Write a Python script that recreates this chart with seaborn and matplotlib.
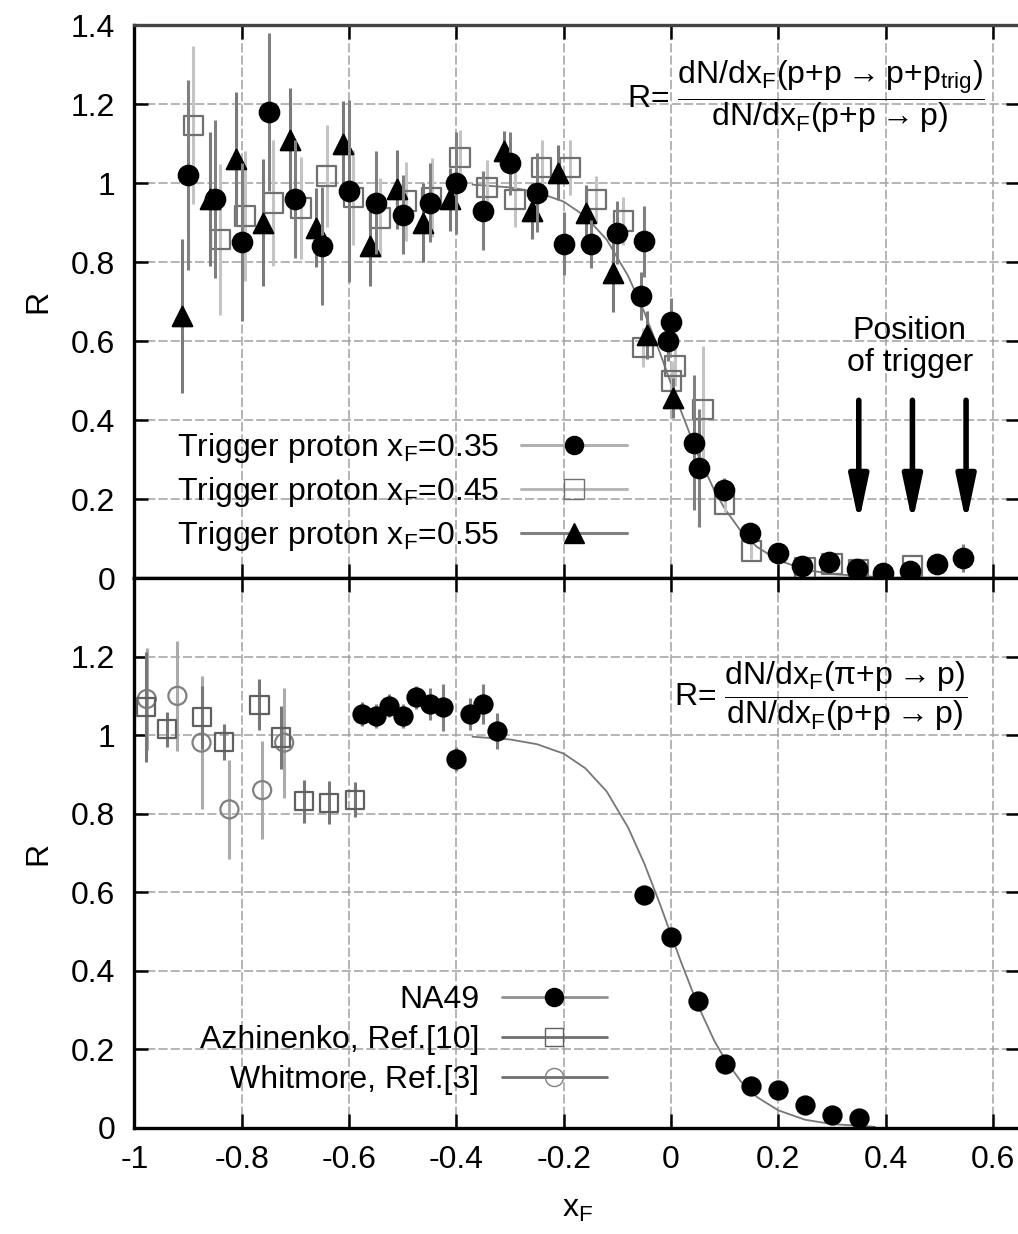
import matplotlib
matplotlib.use("Agg")
import matplotlib.pyplot as plt
from matplotlib.lines import Line2D
import seaborn as sns

# ---- top panel: p+p -> p with a trigger proton -------------------------------
t35_x = [-0.90, -0.85, -0.80, -0.75, -0.70, -0.65, -0.60, -0.55, -0.50, -0.45,
         -0.40, -0.35, -0.30, -0.25, -0.20, -0.15, -0.10, -0.05, -0.056, 0.0,
         -0.005, 0.043, 0.052, 0.098, 0.147, 0.20, 0.245, 0.295, 0.346, 0.396,
         0.445, 0.495, 0.545]
t35_y = [1.02, 0.96, 0.85, 1.18, 0.96, 0.84, 0.98, 0.95, 0.92, 0.95,
         1.00, 0.93, 1.05, 0.975, 0.846, 0.846, 0.874, 0.853, 0.714, 0.648,
         0.60, 0.343, 0.279, 0.224, 0.115, 0.064, 0.03, 0.04, 0.022, 0.013,
         0.018, 0.036, 0.051]
t35_err = [0.24, 0.20, 0.20, 0.20, 0.15, 0.15, 0.23, 0.13, 0.10, 0.10,
           0.13, 0.10, 0.08, 0.10, 0.08, 0.06, 0.08, 0.09, 0.06, 0.06,
           0.05, 0.17, 0.15, 0.03, 0.02, 0.02, 0.01, 0.01, 0.01, 0.01,
           0.01, 0.01, 0.035]

t45_x = [-0.89, -0.84, -0.794, -0.741, -0.69, -0.642, -0.592, -0.542, -0.493,
         -0.446, -0.393, -0.343, -0.291, -0.241, -0.188, -0.139, -0.089,
         -0.052, 0.0075, 0.001, 0.06, 0.10, 0.15, 0.25, 0.30, 0.35, 0.45]
t45_y = [1.146, 0.857, 0.916, 0.95, 0.937, 1.018, 0.963, 0.912, 0.954,
         0.963, 1.064, 0.988, 0.959, 1.039, 1.039, 0.959, 0.904,
         0.583, 0.537, 0.499, 0.427, 0.187, 0.068, 0.025, 0.035, 0.02, 0.03]
t45_err = [0.20, 0.19, 0.165, 0.16, 0.13, 0.13, 0.12, 0.10, 0.10,
           0.10, 0.07, 0.07, 0.07, 0.07, 0.07, 0.06, 0.06,
           0.05, 0.05, 0.05, 0.16, 0.02, 0.02, 0.01, 0.01, 0.01, 0.01]

t55_x = [-0.911, -0.859, -0.81, -0.761, -0.71, -0.662, -0.611, -0.561, -0.511,
         -0.462, -0.412, -0.311, -0.26, -0.21, -0.158, -0.109, -0.045, 0.004]
t55_y = [0.663, 0.959, 1.06, 0.90, 1.11, 0.887, 1.098, 0.84, 0.984,
         0.90, 0.959, 1.081, 0.929, 1.026, 0.925, 0.773, 0.615, 0.456]
t55_err = [0.195, 0.17, 0.17, 0.16, 0.13, 0.10, 0.11, 0.10, 0.10,
           0.10, 0.08, 0.05, 0.07, 0.07, 0.07, 0.10, 0.06, 0.05]

trigger_x = [0.35, 0.45, 0.55]

# ---- bottom panel: pi+p -> p over p+p -> p --------------------------------
na49_x = [-0.575, -0.55, -0.525, -0.50, -0.475, -0.45, -0.425, -0.40, -0.375,
          -0.35, -0.325, -0.05, 0.0, 0.05, 0.10, 0.15, 0.20, 0.25, 0.30, 0.35]
na49_y = [1.054, 1.049, 1.075, 1.049, 1.096, 1.079, 1.071, 0.939, 1.054,
          1.079, 1.011, 0.593, 0.485, 0.323, 0.163, 0.107, 0.096, 0.059, 0.032, 0.026]
na49_err = [0.03, 0.03, 0.03, 0.03, 0.03, 0.04, 0.06, 0.03, 0.04,
            0.05, 0.045, 0.01, 0.01, 0.01, 0.01, 0.01, 0.01, 0.01, 0.01, 0.01]

azh_x = [-0.979, -0.94, -0.874, -0.834, -0.767, -0.727, -0.684, -0.637, -0.589]
azh_y = [1.071, 1.015, 1.045, 0.983, 1.077, 0.994, 0.832, 0.828, 0.836]
azh_err = [0.14, 0.045, 0.08, 0.045, 0.065, 0.08, 0.055, 0.055, 0.045]

whit_x = [-0.977, -0.92, -0.875, -0.823, -0.762, -0.721]
whit_y = [1.092, 1.10, 0.981, 0.811, 0.86, 0.981]
whit_err = [0.13, 0.14, 0.17, 0.125, 0.125, 0.14]

# fitted curve (same in both panels)
curve_x = [-0.37, -0.30, -0.25, -0.20, -0.16, -0.12, -0.08, -0.05, -0.02, 0.0,
           0.02, 0.05, 0.08, 0.10, 0.13, 0.16, 0.20, 0.25, 0.30, 0.38]
curve_y = [0.996, 0.989, 0.977, 0.953, 0.916, 0.857, 0.765, 0.674, 0.568, 0.492,
           0.418, 0.313, 0.224, 0.176, 0.119, 0.079, 0.045, 0.021, 0.010, 0.003]

xticks = [-1, -0.8, -0.6, -0.4, -0.2, 0, 0.2, 0.4, 0.6]
xtick_labels = ["-1", "-0.8", "-0.6", "-0.4", "-0.2", "0", "0.2", "0.4", "0.6"]
yticks = [0, 0.2, 0.4, 0.6, 0.8, 1.0, 1.2, 1.4]
ytick_labels = ["0", "0.2", "0.4", "0.6", "0.8", "1", "1.2", "1.4"]

sns.set_theme(style="ticks")
plt.rcParams["font.family"] = ["Liberation Sans", "DejaVu Sans"]
plt.rcParams["mathtext.default"] = "regular"
plt.rcParams.update({"text.color": "black", "axes.labelcolor": "black",
                     "xtick.color": "black", "ytick.color": "black"})
FS = 23


def style_axes(ax, show_xlabels, top_label):
    ax.set_xlim(-1, 0.65)
    ax.set_ylim(0, 1.4)
    ax.set_xticks(xticks)
    ax.set_yticks(yticks)
    ax.set_xticklabels(xtick_labels if show_xlabels else [])
    labels = list(ytick_labels)
    if not top_label:
        labels[-1] = ""
    ax.set_yticklabels(labels)
    ax.tick_params(direction="in", length=10, width=1.8, top=True, right=True,
                   labelsize=FS, color="black", labelcolor="black")
    ax.tick_params(axis="y", pad=14)
    ax.tick_params(axis="x", pad=12)
    ax.grid(True, color="#a0a0a0", lw=1.1, ls=(0, (6, 2)))
    ax.set_axisbelow(True)
    for s in ax.spines.values():
        s.set_linewidth(2.4)
        s.set_color("black")


def points(ax, x, y, err, marker, size, ecolor, filled, edge, z):
    ax.errorbar(x, y, yerr=err, fmt="none", ecolor=ecolor, elinewidth=2.2,
                capsize=0, zorder=z)
    sns.scatterplot(x=x, y=y, ax=ax, marker=marker, s=size ** 2,
                    color=edge, edgecolor=edge, linewidth=1.6, zorder=z + 1)
    coll = ax.collections[-1]
    coll.set_edgecolor(edge)
    coll.set_facecolor(edge if filled else "none")


fig = plt.figure(figsize=(10.18, 12.34), dpi=100)
ax1 = fig.add_axes([0.1321, 0.5316, 0.8696, 0.4481])
ax2 = fig.add_axes([0.1321, 0.0859, 0.8696, 0.4457])

# top panel
style_axes(ax1, False, True)
ax1.spines["top"].set_color("#444444")
sns.lineplot(x=curve_x, y=curve_y, ax=ax1, color="#777777", lw=1.3, sort=False,
             estimator=None, zorder=2)
points(ax1, t45_x, t45_y, t45_err, "s", 14, "#c4c4c4", False, "#707070", 3)
points(ax1, t55_x, t55_y, t55_err, "^", 14, "#7a7a7a", True, "black", 5)
points(ax1, t35_x, t35_y, t35_err, "o", 14, "#808080", True, "black", 7)

for xt in trigger_x:
    ax1.annotate("", xy=(xt, 0.14), xytext=(xt, 0.45),
                 arrowprops=dict(arrowstyle="-|>,head_width=0.18,head_length=0.85",
                                 lw=4, color="black", mutation_scale=32,
                                 shrinkA=0, shrinkB=0),
                 zorder=9)
ax1.text(0.445, 0.585, "Position\nof trigger", ha="center", va="center",
         fontsize=FS, linespacing=1.05)
ax1.text(0.252, 1.22,
         r"R= $\dfrac{dN/dx_F(p{+}p\rightarrow p{+}p_{trig})}{dN/dx_F(p{+}p\rightarrow p)}$",
         ha="center", va="center", fontsize=FS)

h_top = [Line2D([], [], color="#b0b0b0", lw=2.2, marker="o", ms=13, mfc="black", mec="black"),
         Line2D([], [], color="#b8b8b8", lw=2.2, marker="s", ms=14, mfc="none", mec="#707070"),
         Line2D([], [], color="#808080", lw=2.2, marker="^", ms=14, mfc="black", mec="black")]
ax1.legend(h_top, ["Trigger proton x$_F$=0.35", "Trigger proton x$_F$=0.45",
                   "Trigger proton x$_F$=0.55"],
           loc="upper right", bbox_to_anchor=(0.556, 0.266), frameon=False,
           markerfirst=False, fontsize=FS, handlelength=3.3, handletextpad=0.7,
           labelspacing=0.32, borderpad=0, borderaxespad=0)
ax1.set_ylabel("R", fontsize=FS)
ax1.yaxis.set_label_coords(-0.092, 0.5)

# bottom panel
style_axes(ax2, True, False)
sns.lineplot(x=curve_x, y=curve_y, ax=ax2, color="#777777", lw=1.3, sort=False,
             estimator=None, zorder=2)
points(ax2, whit_x, whit_y, whit_err, "o", 13, "#ababab", False, "#808080", 3)
points(ax2, azh_x, azh_y, azh_err, "s", 13, "#777777", False, "#606060", 5)
points(ax2, na49_x, na49_y, na49_err, "o", 13, "#808080", True, "black", 7)

ax2.text(0.278, 1.10,
         r"R= $\dfrac{dN/dx_F(\pi{+}p\rightarrow p)}{dN/dx_F(p{+}p\rightarrow p)}$",
         ha="center", va="center", fontsize=FS)

h_bot = [Line2D([], [], color="#909090", lw=2.0, marker="o", ms=13, mfc="black", mec="black"),
         Line2D([], [], color="#707070", lw=2.0, marker="s", ms=13, mfc="none", mec="#606060"),
         Line2D([], [], color="#707070", lw=2.0, marker="o", ms=13, mfc="none", mec="#808080")]
ax2.legend(h_bot, ["NA49", "Azhinenko, Ref.[10]", "Whitmore, Ref.[3]"],
           loc="upper right", bbox_to_anchor=(0.534, 0.26), frameon=False,
           markerfirst=False, fontsize=FS, handlelength=3.3, handletextpad=0.7,
           labelspacing=0.32, borderpad=0, borderaxespad=0)
ax2.set_ylabel("R", fontsize=FS)
ax2.yaxis.set_label_coords(-0.092, 0.5)
ax2.set_xlabel("x$_F$", fontsize=FS, labelpad=14)

fig.savefig("out.png", dpi=100)
